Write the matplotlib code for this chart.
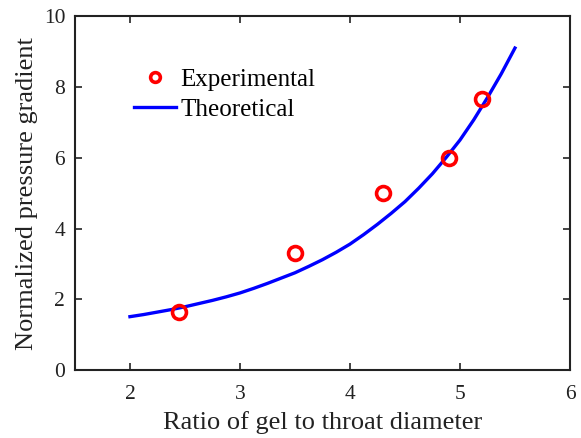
import matplotlib
matplotlib.use("Agg")
import matplotlib.pyplot as plt

plt.rcParams['font.family'] = ['Liberation Serif', 'DejaVu Serif']
plt.rcParams['mathtext.fontset'] = 'stix'

# Experimental data
exp_x = [2.45, 3.5, 4.3, 4.9, 5.2]
exp_y = [1.65, 3.32, 5.0, 5.98, 7.66]

# Theoretical curve
theo_x = [2.0, 2.125, 2.25, 2.375, 2.5, 2.625, 2.75, 2.875, 3.0, 3.125, 3.25, 3.375,
          3.5, 3.625, 3.75, 3.875, 4.0, 4.125, 4.25, 4.375, 4.5, 4.625, 4.75, 4.875,
          5.0, 5.125, 5.25, 5.375, 5.5]
theo_y = [1.51, 1.57, 1.64, 1.71, 1.79, 1.88, 1.97, 2.07, 2.18, 2.31, 2.45, 2.60,
          2.75, 2.93, 3.12, 3.33, 3.56, 3.83, 4.12, 4.43, 4.76, 5.14, 5.55, 6.01,
          6.5, 7.07, 7.7, 8.37, 9.1]

xticks = [2, 3, 4, 5, 6]
yticks = [0, 2, 4, 6, 8, 10]

fig = plt.figure(figsize=(5.81, 4.38), dpi=100)
ax = fig.add_axes([0.129, 0.155, 0.852, 0.808])

ax.plot(exp_x, exp_y, 'o', color='red', markerfacecolor='none',
        markersize=10, markeredgewidth=2.6, label='Experimental', zorder=3)
ax.plot(theo_x, theo_y, '-', color='blue', linewidth=2.4, label='Theoretical', zorder=2)

ax.set_xlim(1.5, 6)
ax.set_ylim(0, 10)
ax.set_xticks(xticks)
ax.set_yticks(yticks)
ax.tick_params(direction='in', top=True, right=True, length=5, width=1.2,
               labelsize=15.5, colors='#222222')
ax.tick_params(axis='x', pad=11)
ax.tick_params(axis='y', pad=7)
for sp in ax.spines.values():
    sp.set_linewidth(1.5)
    sp.set_color('#222222')

ax.set_xlabel('Ratio of gel to throat diameter', fontsize=19, color='#222222', labelpad=5)
ax.set_ylabel('Normalized pressure gradient', fontsize=19, color='#222222', labelpad=4)

leg = ax.legend(loc='upper left', bbox_to_anchor=(0.1, 0.88), frameon=False,
                fontsize=18, handlelength=1.65, handletextpad=0.2, labelspacing=0.3,
                markerscale=0.7, borderaxespad=0)

fig.savefig('out.png', dpi=100)
